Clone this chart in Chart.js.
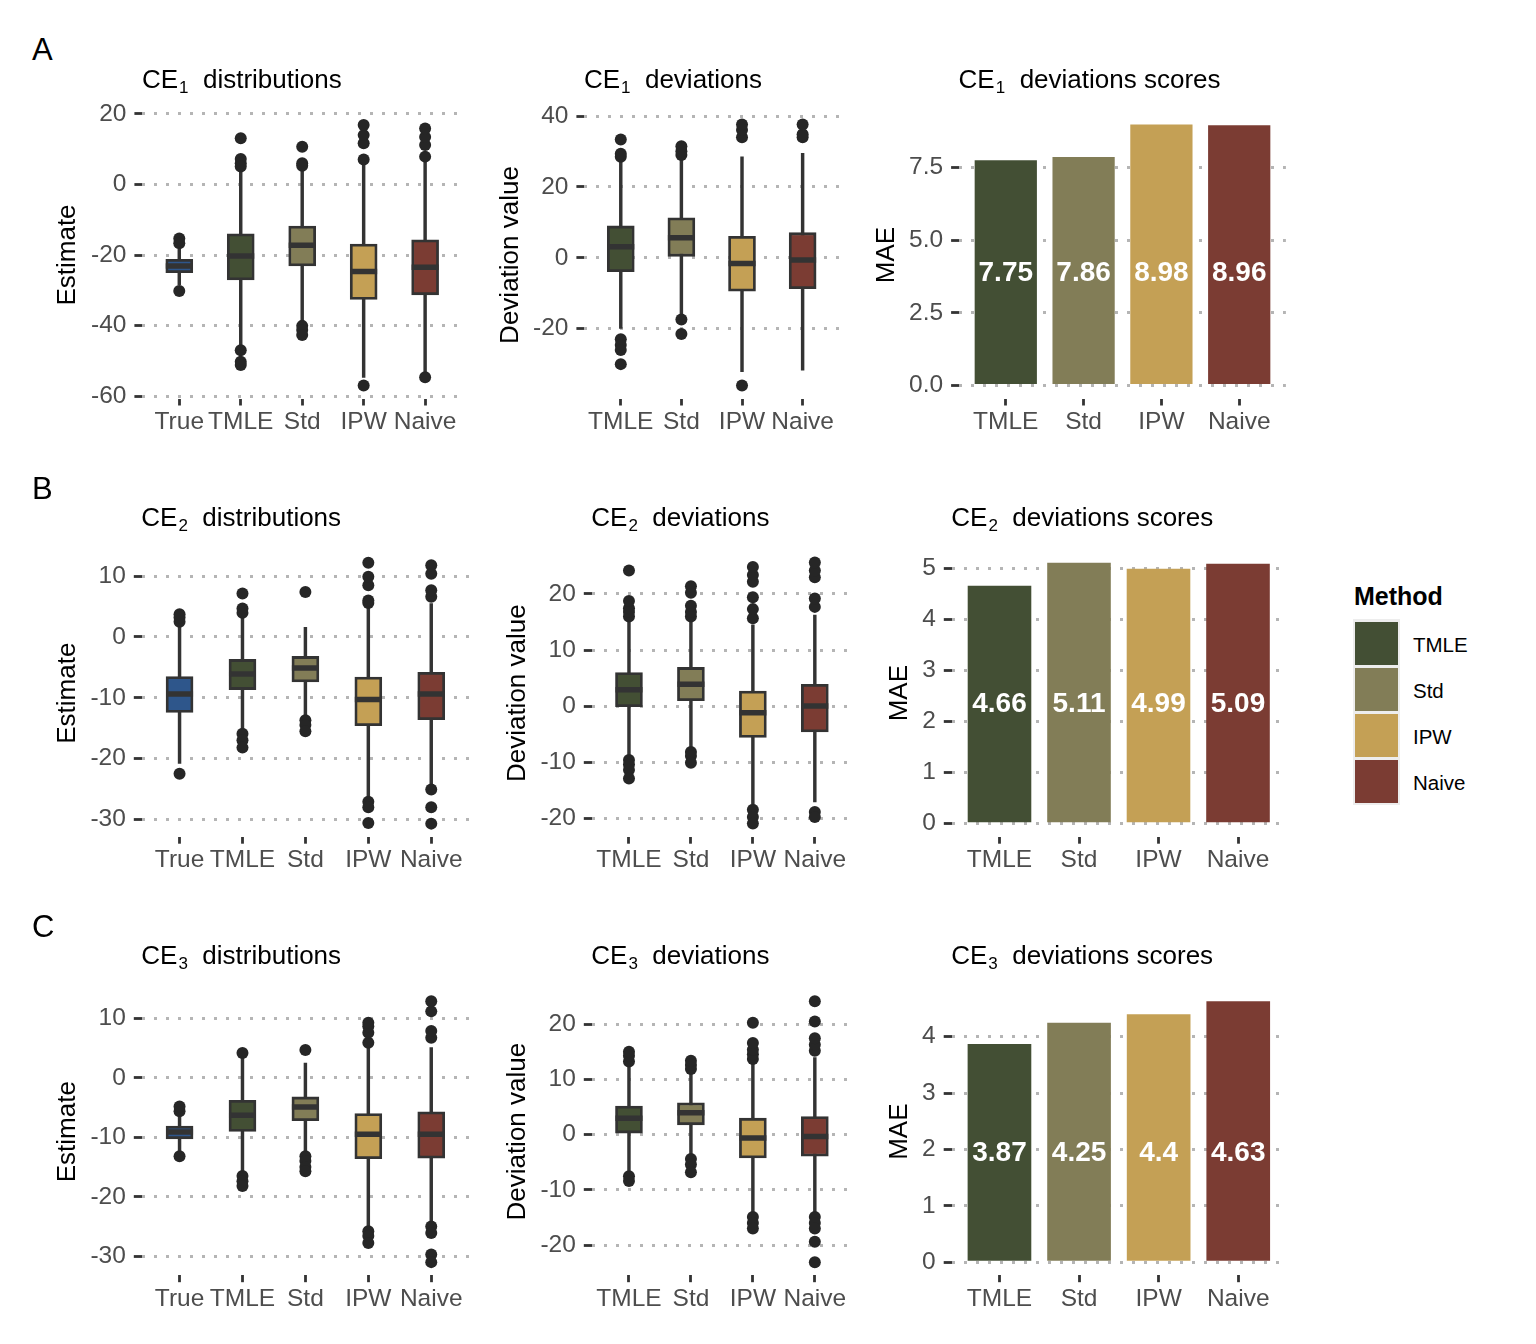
<!DOCTYPE html>
<html><head><meta charset="utf-8">
<script src="https://cdn.jsdelivr.net/npm/chart.js"></script>
<style>
html,body{margin:0;padding:0;background:#fff;}
body{width:1536px;height:1344px;position:relative;overflow:hidden;font-family:'Liberation Sans',Arial,sans-serif;}
.txt{position:absolute;white-space:nowrap;line-height:1;color:#000;}
.sb{font-size:17px;position:relative;top:5px;margin-left:1px;}
.cv{position:absolute;}
</style></head><body>
<script>
// ---------------- DATA ----------------
const methods = ['TMLE', 'Std', 'IPW', 'Naive'];
const distCats = ['True', 'TMLE', 'Std', 'IPW', 'Naive'];

// box statistics per category: [lower whisker, Q1, median, Q3, upper whisker]
const ce1DistStats = [
  [-28.5, -25.0, -23.1, -21.2, -18.4],
  [-45.5, -27.1, -20.3, -14.0, 4.1],
  [-39.4, -23.1, -17.2, -11.8, 5.1],
  [-54.7, -32.6, -24.7, -16.9, 5.5],
  [-53.6, -31.3, -23.5, -15.7, 6.8]
];
const ce1DistOutliers = [
  [-15.3, -16.7, -30.2],
  [13.1, 7.2, 6.0, 5.1, -47.0, -50.3, -51.2],
  [10.7, 6.0, 5.3, -40.1, -41.3, -42.7],
  [7.1, 11.7, 14.0, 16.9, -57.0],
  [7.9, 11.2, 13.5, 15.9, -54.7]
];
const ce1DevStats = [
  [-19.9, -3.9, 3.1, 9.0, 27.1],
  [-15.9, 0.0, 5.7, 11.3, 27.6],
  [-32.1, -9.4, -1.6, 6.1, 28.5],
  [-31.7, -8.7, -0.6, 7.1, 29.5]
];
const ce1DevOutliers = [
  [28.5, 29.4, 33.4, -23.0, -24.6, -26.0, -30.0],
  [29.0, 30.1, 31.5, -17.4, -21.5],
  [34.0, 36.1, 37.6, -36.0],
  [34.0, 34.9, 37.6]
];
const ce1Mae = [7.75, 7.86, 8.98, 8.96];

const ce2DistStats = [
  [-20.8, -12.4, -9.4, -6.5, 1.9],
  [-15.2, -8.65, -6.1, -3.7, 3.3],
  [-13.2, -7.4, -5.1, -3.2, 1.6],
  [-26.6, -14.6, -10.3, -6.6, 4.95],
  [-24.4, -13.6, -9.4, -5.8, 5.5]
];
const ce2DistOutliers = [
  [2.5, 3.2, 3.75, -22.5],
  [3.96, 4.7, 7.15, -15.9, -17.0, -18.2],
  [7.4, -13.7, -14.5, -15.5],
  [5.6, 6.0, 8.5, 9.9, 12.2, -27.1, -28.0, -30.6],
  [6.6, 7.7, 10.4, 11.8, -25.1, -28.0, -30.7]
];
const ce2DevStats = [
  [-9.0, -0.1, 2.9, 6.0, 15.4],
  [-7.6, 0.95, 3.9, 6.9, 15.1],
  [-17.4, -5.6, -1.2, 2.7, 14.5],
  [-17.1, -4.6, 0.0, 3.9, 16.25]
];
const ce2DevOutliers = [
  [16.0, 16.8, 17.45, 18.75, 24.2, -9.6, -10.4, -11.4, -12.9],
  [16.0, 16.8, 17.9, 20.2, 21.4, -8.2, -8.9, -10.1],
  [15.65, 17.3, 19.4, 22.2, 23.4, 24.8, -18.5, -19.8, -20.95],
  [17.7, 19.2, 23.0, 24.2, 25.6, -18.9, -19.8]
];
const ce2Mae = [4.66, 5.11, 4.99, 5.09];

const ce3DistStats = [
  [-12.3, -10.25, -9.1, -8.1, -6.2],
  [-16.0, -9.0, -6.3, -3.75, 3.4],
  [-12.6, -7.2, -4.9, -3.2, 2.5],
  [-25.2, -13.6, -9.5, -6.0, 5.1],
  [-24.4, -13.5, -9.5, -5.7, 5.1]
];
const ce3DistOutliers = [
  [-5.6, -4.8, -13.2],
  [4.2, -16.5, -17.4, -18.2],
  [4.7, -13.2, -14.0, -15.0, -15.7],
  [5.9, 7.6, 8.7, 9.3, -25.8, -26.6, -27.8],
  [6.75, 7.9, 11.2, 12.9, -25.0, -26.1, -29.7, -31.0]
];
const ce3DevStats = [
  [-6.9, 0.3, 3.0, 5.2, 12.5],
  [-3.6, 1.8, 4.0, 5.8, 11.15],
  [-14.1, -4.2, -0.6, 3.0, 13.0],
  [-14.1, -3.9, -0.3, 3.3, 14.0]
];
const ce3DevOutliers = [
  [13.25, 14.3, 15.05, -7.5, -8.4],
  [11.9, 12.65, 13.4, -4.4, -5.4, -6.8],
  [13.7, 14.6, 15.4, 16.6, 20.3, -14.9, -16.0, -17.0],
  [15.2, 16.3, 17.5, 20.5, 24.2, -14.9, -16.0, -17.0, -19.4, -23.1]
];
const ce3Mae = [3.87, 4.25, 4.4, 4.63];

// tick values
const ce1DistTicks = [-60, -40, -20, 0, 20];
const ce1DevTicks = [-20, 0, 20, 40];
const ce1MaeTicks = [0, 2.5, 5, 7.5];
const ce2DistTicks = [-30, -20, -10, 0, 10];
const ce2DevTicks = [-20, -10, 0, 10, 20];
const ce2MaeTicks = [0, 1, 2, 3, 4, 5];
const ce3DistTicks = [-30, -20, -10, 0, 10];
const ce3DevTicks = [-20, -10, 0, 10, 20];
const ce3MaeTicks = [0, 1, 2, 3, 4];

// ---------------- STYLE / LAYOUT ----------------
const FONT = "'Liberation Sans', Arial, sans-serif";
const methodColors = { True: '#2E568B', TMLE: '#434F34', Std: '#827D57', IPW: '#C4A055', Naive: '#7B3C33' };
const INK = '#333333';
const PH = 287;

function addText(html, left, capCenter, size, extra) {
  const d = document.createElement('div');
  d.className = 'txt';
  d.style.left = left + 'px';
  d.style.top = (capCenter - 0.4885 * size) + 'px';
  d.style.fontSize = size + 'px';
  if (extra) Object.assign(d.style, extra);
  d.innerHTML = html;
  document.body.appendChild(d);
}

// value labels: the original places every label at half the height of the first bar
const barLabelPlugin = {
  id: 'barLabels',
  afterDatasetsDraw(chart, args, opts) {
    if (!opts || !opts.values) return;
    const ctx = chart.ctx, meta = chart.getDatasetMeta(0), ys = chart.scales.y;
    const yPix = ys.getPixelForValue(opts.values[0] / 2);
    ctx.save();
    ctx.font = 'bold 28px ' + FONT;
    ctx.fillStyle = '#ffffff';
    ctx.textAlign = 'center';
    ctx.textBaseline = 'middle';
    meta.data.forEach((bar, i) => {
      ctx.fillText(String(opts.values[i]), bar.x, yPix);
    });
    ctx.restore();
  }
};

function makePanel(p) {
  const canvasTop = Math.floor(p.top - 30);
  const padTop = p.top - canvasTop;
  const W = Math.ceil(p.right - p.L + 12);
  const padRight = W - (p.right - p.L);
  const H = Math.ceil(padTop + PH + 50);
  const xH = H - padTop - PH;
  const cv = document.createElement('canvas');
  cv.className = 'cv';
  cv.width = W; cv.height = H;
  cv.style.left = p.L + 'px'; cv.style.top = canvasTop + 'px';
  cv.style.width = W + 'px'; cv.style.height = H + 'px';
  document.body.appendChild(cv);

  const cats = p.cats;
  let datasets;
  if (p.kind === 'box') {
    datasets = [
      { type: 'bar', data: p.stats.map((s, i) => ({ x: i, y: [s[0], s[4]] })),
        backgroundColor: INK, borderWidth: 0, barThickness: 2.8, grouped: false, order: 4 },
      { type: 'bar', data: p.stats.map((s, i) => ({ x: i, y: [s[1], s[3]] })),
        backgroundColor: cats.map(c => methodColors[c]), borderColor: INK, borderWidth: 2.8,
        borderSkipped: false, barThickness: 27, grouped: false, order: 3 },
      { type: 'scatter', data: p.stats.map((s, i) => ({ x: i, y: s[2] })),
        pointStyle: 'line', pointRadius: 13.5, pointHoverRadius: 13.5, pointBorderWidth: 5.5,
        pointBorderColor: INK, order: 2 },
      { type: 'scatter', data: p.outl.flatMap((arr, i) => arr.map(v => ({ x: i, y: v }))),
        pointRadius: 6, pointHoverRadius: 6, pointBackgroundColor: '#262626', pointBorderWidth: 0, order: 1 }
    ];
  } else {
    datasets = [
      { type: 'bar', data: p.vals.map((v, i) => ({ x: i, y: v })),
        backgroundColor: cats.map(c => methodColors[c]), borderWidth: 0,
        barPercentage: 0.8, categoryPercentage: 1, grouped: false }
    ];
  }

  new Chart(cv, {
    type: 'bar',
    data: { datasets },
    plugins: [barLabelPlugin],
    options: {
      responsive: false, animation: false, events: [], devicePixelRatio: 1,
      layout: { padding: { top: padTop, right: padRight, left: 0, bottom: 0 } },
      plugins: { legend: { display: false }, tooltip: { enabled: false }, title: { display: false },
                 barLabels: p.kind === 'bar' ? { values: p.vals } : {} },
      scales: {
        x: {
          type: 'linear', min: -0.6, max: cats.length - 0.4, bounds: 'data', offset: false,
          afterBuildTicks: s => { s.ticks = cats.map((c, i) => ({ value: i })); },
          afterFit: s => { s.height = xH; },
          ticks: { callback: v => cats[Math.round(v)], autoSkip: false, maxRotation: 0, minRotation: 0,
                   padding: 2, color: '#4d4d4d', font: { family: FONT, size: 24.5 } },
          grid: { display: true, drawOnChartArea: false, drawTicks: true, offset: false,
                  tickLength: 7, tickColor: INK, tickWidth: 2.8 },
          border: { display: false }
        },
        y: {
          type: 'linear', min: p.ymin, max: p.ymax, bounds: 'data', beginAtZero: false,
          afterBuildTicks: s => { s.ticks = p.ticks.map(v => ({ value: v })); },
          afterFit: s => { s.width = p.left - p.L; },
          ticks: { callback: p.fmt || (v => String(v)), autoSkip: false, padding: 8,
                   color: '#4d4d4d', font: { family: FONT, size: 24.5 } },
          grid: { color: '#b5b5b5', lineWidth: 3, drawTicks: true, tickLength: 8,
                  tickColor: INK, tickWidth: 2.8, tickBorderDash: [] },
          border: { display: false, dash: [3, 9] },
          title: { display: true, text: p.ytitle, color: '#000', font: { family: FONT, size: 26 },
                   padding: { top: p.tpad, bottom: 0 } }
        }
      }
    }
  });
}

const rowTops = [111.5, 549.7, 988.2];
const fmt1 = v => Number(v).toFixed(1);
const panels = [
  { kind: 'box', cats: distCats, stats: ce1DistStats, outl: ce1DistOutliers, ticks: ce1DistTicks, ymin: -60.7, ymax: 20.7,
    ytitle: 'Estimate', L: 40, left: 142.4, right: 468.3, top: rowTops[0], tpad: 11.9, title: 'CE<span class="sb">1</span>&nbsp;&nbsp;distributions' },
  { kind: 'box', cats: methods, stats: ce1DevStats, outl: ce1DevOutliers, ticks: ce1DevTicks, ymin: -39.7, ymax: 41.3,
    ytitle: 'Deviation value', L: 480, left: 584.4, right: 845.6, top: rowTops[0], tpad: 15.4, title: 'CE<span class="sb">1</span>&nbsp;&nbsp;deviations' },
  { kind: 'bar', cats: methods, vals: ce1Mae, ticks: ce1MaeTicks, ymin: -0.449, ymax: 9.429, fmt: fmt1,
    ytitle: 'MAE', L: 860, left: 959.1, right: 1285.9, top: rowTops[0], tpad: 11.1, title: 'CE<span class="sb">1</span>&nbsp;&nbsp;deviations scores' },
  { kind: 'box', cats: distCats, stats: ce2DistStats, outl: ce2DistOutliers, ticks: ce2DistTicks, ymin: -32.85, ymax: 14.35,
    ytitle: 'Estimate', L: 40, left: 141.8, right: 475.5, top: rowTops[1], tpad: 11.9, title: 'CE<span class="sb">2</span>&nbsp;&nbsp;distributions' },
  { kind: 'box', cats: methods, stats: ce2DevStats, outl: ce2DevOutliers, ticks: ce2DevTicks, ymin: -23.3, ymax: 27.9,
    ytitle: 'Deviation value', L: 480, left: 591.8, right: 858.9, top: rowTops[1], tpad: 22.4, title: 'CE<span class="sb">2</span>&nbsp;&nbsp;deviations' },
  { kind: 'bar', cats: methods, vals: ce2Mae, ticks: ce2MaeTicks, ymin: -0.2555, ymax: 5.3655,
    ytitle: 'MAE', L: 860, left: 951.8, right: 1285.7, top: rowTops[1], tpad: 24.4, title: 'CE<span class="sb">2</span>&nbsp;&nbsp;deviations scores' },
  { kind: 'box', cats: distCats, stats: ce3DistStats, outl: ce3DistOutliers, ticks: ce3DistTicks, ymin: -33.2, ymax: 15.1,
    ytitle: 'Estimate', L: 40, left: 141.8, right: 475.5, top: rowTops[2], tpad: 11.9, title: 'CE<span class="sb">3</span>&nbsp;&nbsp;distributions' },
  { kind: 'box', cats: methods, stats: ce3DevStats, outl: ce3DevOutliers, ticks: ce3DevTicks, ymin: -25.45, ymax: 26.55,
    ytitle: 'Deviation value', L: 480, left: 591.8, right: 858.9, top: rowTops[2], tpad: 22.4, title: 'CE<span class="sb">3</span>&nbsp;&nbsp;deviations' },
  { kind: 'bar', cats: methods, vals: ce3Mae, ticks: ce3MaeTicks, ymin: -0.2315, ymax: 4.8615,
    ytitle: 'MAE', L: 860, left: 951.7, right: 1286, top: rowTops[2], tpad: 24.4, title: 'CE<span class="sb">3</span>&nbsp;&nbsp;deviations scores' }
];

panels.forEach(makePanel);

// titles
const titleCenters = [78.3, 516.5, 954.7];
panels.forEach((p, k) => addText(p.title, p.left - 0.5, titleCenters[Math.floor(k / 3)], 26));

// panel letters
['A', 'B', 'C'].forEach((t, k) => addText(t, 32, 49.5 + k * 438.3, 31));

// legend
addText('Method', 1354, 596.3, 25, { fontWeight: 'bold' });
const frame = document.createElement('div');
Object.assign(frame.style, { position: 'absolute', left: '1353px', top: '619px', width: '47px', height: '186px', background: '#ededed' });
document.body.appendChild(frame);
methods.forEach((m, k) => {
  const top = 621.7 + k * 46.1;
  const key = document.createElement('div');
  Object.assign(key.style, { position: 'absolute', left: '1355px', top: top + 'px', width: '43px', height: '43.3px', background: methodColors[m] });
  document.body.appendChild(key);
  addText(m, 1413, top + 23.5, 20.5);
});
</script>
</body></html>
